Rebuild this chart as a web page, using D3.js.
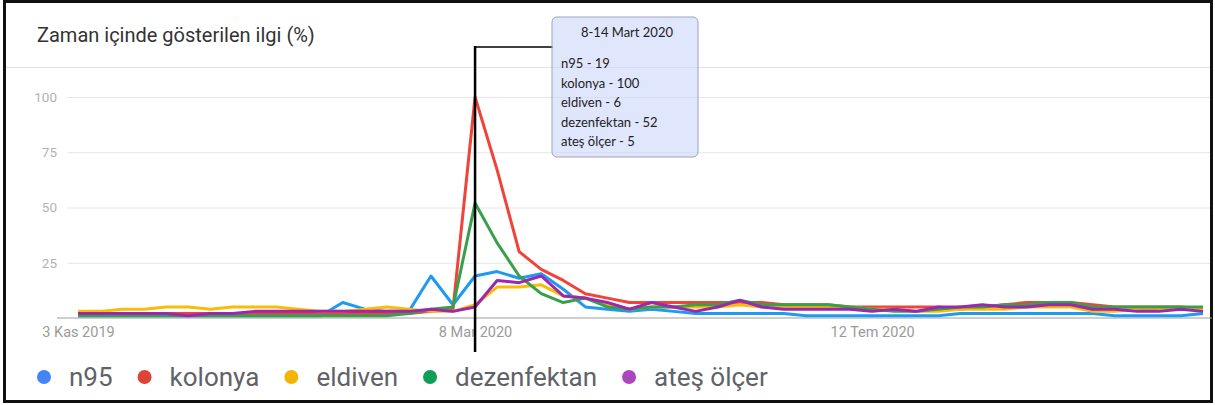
<!DOCTYPE html>
<html>
<head>
<meta charset="utf-8">
<script src="https://cdn.jsdelivr.net/npm/d3@7"></script>
<style>
  html, body { margin: 0; padding: 0; background: #fff; }
  svg { display: block; font-family: Roboto, "Noto Sans", sans-serif; }
</style>
</head>
<body>
<div id="chart"></div>
<script>
// weekly values, 3 Kas 2019 .. 25 Eki 2020
const seriesNames = ["n95", "kolonya", "eldiven", "dezenfektan", "ateş ölçer"];
const n95 = [1,1,1,1,1,1,1,1,1,1,1,1,7,4,3,3,19,6,19,21,18,20,13,5,4,3,4,3,2,2,2,2,2,1,1,1,1,1,1,1,2,2,2,2,2,2,2,1,1,1,1,2];
const kolonya = [2,2,2,2,2,2,2,2,2,2,2,2,2,2,2,2,3,4,100,67,30,22,17,11,9,7,7,7,7,7,7,7,6,6,6,5,5,5,5,5,4,5,6,7,7,7,6,5,5,5,5,4];
const eldiven = [3,3,4,4,5,5,4,5,5,5,4,3,3,4,5,4,3,3,6,14,14,15,10,9,6,4,5,5,5,5,6,5,5,5,5,5,4,4,3,3,4,4,4,5,5,5,3,3,4,4,5,4];
const dezenfektan = [1,1,1,1,1,1,1,1,1,1,1,1,1,1,1,2,4,5,52,34,19,11,7,9,5,4,5,5,6,6,8,6,6,6,6,5,4,3,3,4,5,5,6,6,7,7,5,5,5,5,5,5];
const atesOlcer = [2,2,2,2,2,1,2,2,3,3,3,3,3,3,3,3,4,3,5,17,16,19,10,9,7,4,7,5,3,5,8,5,4,4,4,4,3,4,3,5,5,6,5,5,6,6,4,4,3,3,4,3];
const lineColors = ["#1e9bf0", "#f0433a", "#fbbc04", "#38a04a", "#9c27b0"];
const dotColors = ["#4285f4", "#db4437", "#f4b400", "#0f9d58", "#ab47bc"];
const yTicks = [25, 50, 75, 100];
const xTickDates = ["2019-11-03", "2020-03-08", "2020-07-12"];
const xTickLabels = ["3 Kas 2019", "8 Mar 2020", "12 Tem 2020"];
const focusDate = "2020-03-08";
const tooltipTitle = "8-14 Mart 2020";

const allSeries = [n95, kolonya, eldiven, dezenfektan, atesOlcer];
const startDate = new Date(2019, 10, 3);
const dates = n95.map((d, i) => d3.timeWeek.offset(startDate, i));
const parse = d3.timeParse("%Y-%m-%d");

const W = 1215, H = 405;
const svg = d3.select("#chart").append("svg").attr("width", W).attr("height", H);

const x = d3.scaleTime().domain(d3.extent(dates)).range([78, 1203]);
const y = d3.scaleLinear().domain([0, 100]).range([318, 97]);

// frame + header
svg.append("rect").attr("x", 4.5).attr("y", 1.5).attr("width", 1207).attr("height", 400)
  .attr("fill", "#fff").attr("stroke", "#111").attr("stroke-width", 3);
svg.append("text").attr("x", 37).attr("y", 42).text("Zaman içinde gösterilen ilgi (%)")
  .style("font-size", "20px").attr("fill", "#333");
svg.append("line").attr("x1", 6).attr("x2", 1210).attr("y1", 67.5).attr("y2", 67.5)
  .attr("stroke", "#e3e3e3");

// y grid
const yAxis = svg.append("g").attr("transform", "translate(67,0)")
  .call(d3.axisLeft(y).tickValues(yTicks).tickSize(-1143).tickPadding(10));
yAxis.select(".domain").remove();
yAxis.selectAll("line").attr("stroke", "#e6e6e6");
yAxis.selectAll("text").attr("fill", "#b3b3b3").style("font-size", "13.5px")
  .style("font-family", "Roboto, sans-serif");

// baseline + x labels
svg.append("line").attr("x1", 57).attr("x2", 1212).attr("y1", y(0)).attr("y2", y(0))
  .attr("stroke", "#9e9e9e").attr("stroke-width", 1);
const xAxis = svg.append("g").attr("transform", `translate(0,${y(0)})`)
  .call(d3.axisBottom(x).tickValues(xTickDates.map(parse)).tickSize(0).tickPadding(9)
    .tickFormat((d, i) => xTickLabels[i]));
xAxis.select(".domain").remove();
xAxis.selectAll("text").attr("fill", "#9a9a9a").style("font-size", "14.5px")
  .style("font-family", "Roboto, sans-serif");

// lines
const line = d3.line().x((d, i) => x(dates[i])).y(d => y(d));
allSeries.forEach((s, k) => {
  svg.append("path").datum(s).attr("fill", "none").attr("stroke", lineColors[k])
    .attr("stroke-width", 3).attr("stroke-linejoin", "round").attr("d", line);
});

// focus line + tooltip
const fx = x(parse(focusDate));
svg.append("line").attr("x1", fx).attr("x2", fx).attr("y1", 46).attr("y2", 352)
  .attr("stroke", "#000").attr("stroke-width", 2.5);
svg.append("line").attr("x1", fx).attr("x2", 553).attr("y1", 47).attr("y2", 47)
  .attr("stroke", "#000").attr("stroke-width", 1.5);
const tip = svg.append("g").attr("transform", "translate(552,17)");
tip.append("rect").attr("width", 146).attr("height", 140).attr("rx", 5)
  .attr("fill", "rgba(205,215,250,0.62)").attr("stroke", "#9ba3bd").attr("stroke-width", 1);
tip.append("text").attr("x", 75).attr("y", 20).attr("text-anchor", "middle")
  .text(tooltipTitle).style("font-family", "Lato, 'Open Sans', sans-serif")
  .style("font-size", "13px").attr("fill", "#222");
const idx = dates.findIndex(d => +d === +parse(focusDate));
seriesNames.forEach((n, k) => {
  tip.append("text").attr("x", 9).attr("y", 51 + k * 19.5)
    .text(`${n} - ${allSeries[k][idx]}`)
    .style("font-family", "Lato, 'Open Sans', sans-serif")
    .style("font-size", "13px").attr("fill", "#222");
});

// legend
const legend = svg.append("g").attr("transform", "translate(0,377)");
let lx = 44;
seriesNames.forEach((n, k) => {
  legend.append("circle").attr("cx", lx).attr("cy", 0).attr("r", 7).attr("fill", dotColors[k]);
  const t = legend.append("text").attr("x", lx + 25).attr("y", 9).text(n)
    .style("font-size", "26px").attr("fill", "#5f6368");
  lx += 25 + t.node().getComputedTextLength() + 32;
});
</script>
</body>
</html>
